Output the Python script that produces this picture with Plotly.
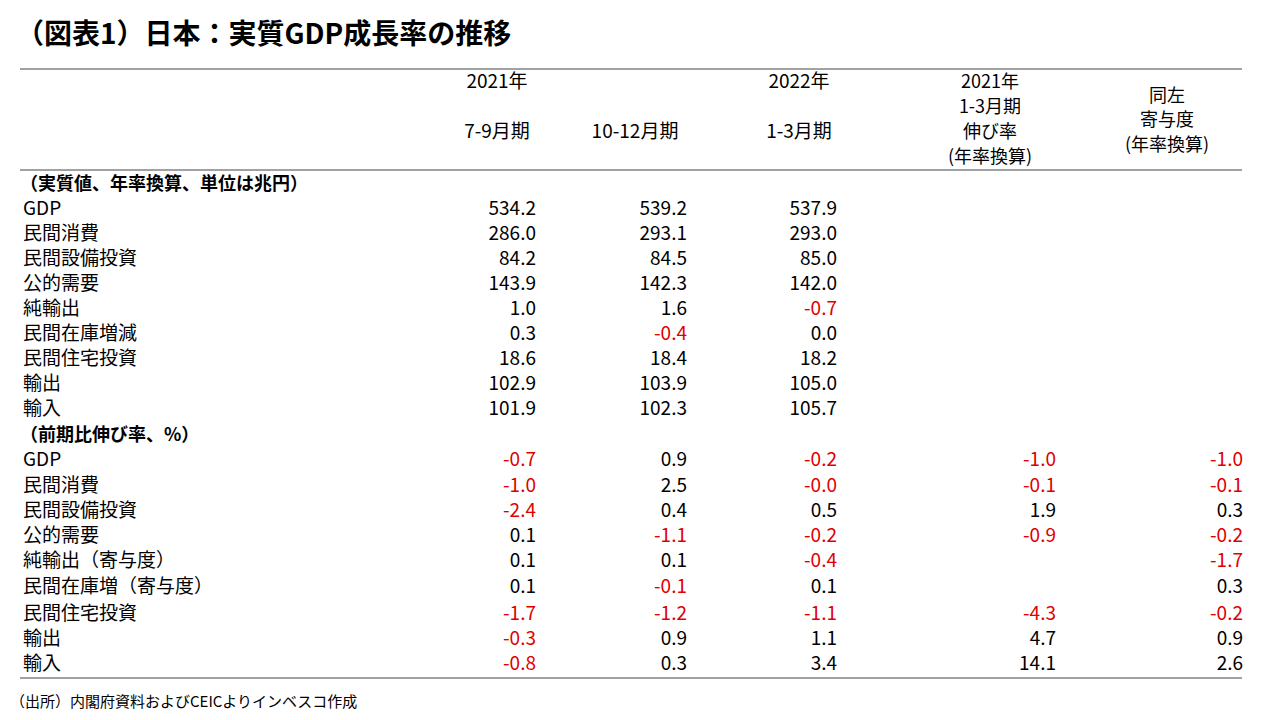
import plotly.graph_objects as go

title = "（図表1）日本：実質GDP成長率の推移"
source = "（出所）内閣府資料およびCEICよりインベスコ作成"

section1 = "（実質値、年率換算、単位は兆円）"
labels1 = ["GDP", "民間消費", "民間設備投資", "公的需要", "純輸出", "民間在庫増減", "民間住宅投資", "輸出", "輸入"]
q3_2021 = [534.2, 286.0, 84.2, 143.9, 1.0, 0.3, 18.6, 102.9, 101.9]
q4_2021 = [539.2, 293.1, 84.5, 142.3, 1.6, -0.4, 18.4, 103.9, 102.3]
q1_2022 = [537.9, 293.0, 85.0, 142.0, -0.7, 0.0, 18.2, 105.0, 105.7]

section2 = "（前期比伸び率、%）"
labels2 = ["GDP", "民間消費", "民間設備投資", "公的需要", "純輸出（寄与度）", "民間在庫増（寄与度）", "民間住宅投資", "輸出", "輸入"]
g_q3_2021 = [-0.7, -1.0, -2.4, 0.1, 0.1, 0.1, -1.7, -0.3, -0.8]
g_q4_2021 = [0.9, 2.5, 0.4, -1.1, 0.1, -0.1, -1.2, 0.9, 0.3]
g_q1_2022 = [-0.2, -0.0, 0.5, -0.2, -0.4, 0.1, -1.1, 1.1, 3.4]
g_q1_2021_ann = [-1.0, -0.1, 1.9, -0.9, None, None, -4.3, 4.7, 14.1]
c_q1_2021_ann = [-1.0, -0.1, 0.3, -0.2, -1.7, 0.3, -0.2, 0.9, 2.6]

FONT = "Noto Sans CJK JP"
BLACK = "#000000"
RED = "#e00000"

rows1_y = [210 + 25 * i for i in range(9)]
rows2_y = [461, 487, 512, 537, 562, 588, 615, 640, 665]

fig = go.Figure()


def add_text(xs, ys, texts, pos, size=19, colors=BLACK, bold=False):
    if bold:
        texts = ["<b>%s</b>" % t for t in texts]
    fig.add_trace(go.Scatter(x=xs, y=ys, mode="text", text=texts, textposition=pos,
                             textfont=dict(family=FONT, size=size, color=colors),
                             hoverinfo="skip", showlegend=False))


def add_col(x, ys, vals):
    pts = [(y, v) for y, v in zip(ys, vals) if v is not None]
    texts = [f"{v:.1f}" for _, v in pts]
    cols = [RED if t.startswith("-") else BLACK for t in texts]
    add_text([x] * len(pts), [y for y, _ in pts], texts, "middle left", colors=cols)


# labels
add_text([20], [185], [section1], "middle right", size=18, bold=True)
add_text([23] * 9, rows1_y, labels1, "middle right")
add_text([20], [436], [section2], "middle right", size=18, bold=True)
add_text([23] * 9, rows2_y, labels2, "middle right")

# values
for x, vals in [(536, q3_2021), (687, q4_2021), (837, q1_2022)]:
    add_col(x, rows1_y, vals)
for x, vals in [(536, g_q3_2021), (687, g_q4_2021), (837, g_q1_2022),
                (1056, g_q1_2021_ann), (1243, c_q1_2021_ann)]:
    add_col(x, rows2_y, vals)

# headers
add_text([497, 497, 635, 799, 799], [83, 133, 133, 83, 133],
         ["2021年", "7-9月期", "10-12月期", "2022年", "1-3月期"], "middle center")
add_text([990] * 4, [83, 108, 133, 158], ["2021年", "1-3月期", "伸び率", "(年率換算)"],
         "middle center", size=18)
add_text([1167] * 3, [97, 121, 146], ["同左", "寄与度", "(年率換算)"], "middle center", size=18)

# title and source
add_text([16], [37], [title], "middle right", size=28, bold=True)
add_text([10], [703], [source], "middle right", size=15)

for y in [69, 170, 678]:
    fig.add_shape(type="line", x0=20, x1=1242, y0=y, y1=y, line=dict(color="#444", width=1))
fig.add_shape(type="line", x0=0, x1=1280, y0=1, y1=1, line=dict(color="#888", width=1))

# offset ranges by 8px to compensate the page body margin
fig.update_xaxes(range=[8, 1288], visible=False)
fig.update_yaxes(range=[728, 8], visible=False)
fig.update_layout(width=1280, height=720, margin=dict(l=0, r=0, t=0, b=0),
                  plot_bgcolor="white", paper_bgcolor="white")
fig.write_html("out.html")
